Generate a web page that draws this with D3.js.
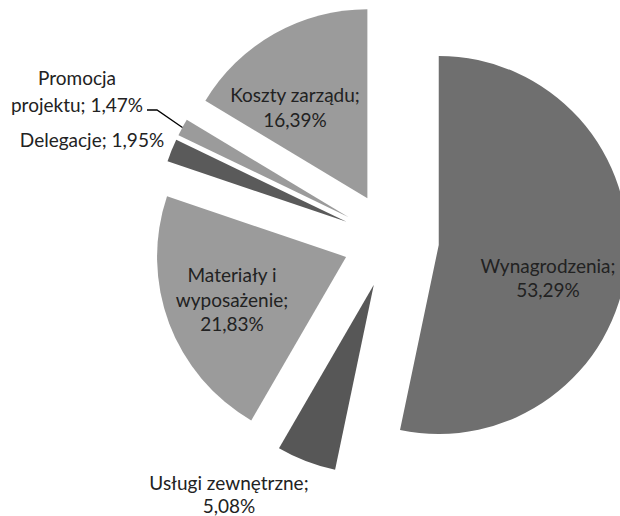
<!DOCTYPE html>
<html>
<head>
<meta charset="utf-8">
<script src="https://cdn.jsdelivr.net/npm/d3@7"></script>
<style>
  body { margin: 0; background: #fff; }
  svg { display: block; }
  text { font-family: Lato, "Open Sans", sans-serif; fill: #222; }
</style>
</head>
<body>
<div id="chart"></div>
<script>
// dane
var categories = ["Wynagrodzenia", "Usługi zewnętrzne", "Materiały i wyposażenie", "Delegacje", "Promocja projektu", "Koszty zarządu"];
var values = [53.29, 5.08, 21.83, 1.95, 1.47, 16.39];
var colors = ["#6f6f6f", "#575757", "#9b9b9b", "#5a5a5a", "#9b9b9b", "#9b9b9b"];

var width = 620, height = 516;
var cx = 391, cy = 240, radius = 189, explode = 48;

// etykiety: ile slow w kazdej linii nazwy, czy wartosc w osobnej linii
var labelWrap = [[1], [2], [2, 1], [1], [1, 1], [2]];
var valueOwnLine = [true, true, true, false, false, true];
var labelPos = [
  {x: 548, y: 273, lh: 24},
  {x: 229, y: 490, lh: 23},
  {x: 232, y: 282, lh: 24.5},
  {x: 92,  y: 147, lh: 24},
  {x: 77,  y: 85,  lh: 27},
  {x: 295, y: 102, lh: 25}
];

var svg = d3.select("#chart").append("svg")
    .attr("width", width)
    .attr("height", height);

var pie = d3.pie().sort(null).value(function(d) { return d; });
var arc = d3.arc().innerRadius(0).outerRadius(radius);
var arcs = pie(values);

function offset(d, r) {
  var a = (d.startAngle + d.endAngle) / 2;
  return [Math.sin(a) * r, -Math.cos(a) * r];
}

var g = svg.append("g").attr("transform", "translate(" + cx + "," + cy + ")");

g.selectAll("path")
  .data(arcs)
  .enter()
  .append("path")
  .attr("d", arc)
  .attr("fill", function(d, i) { return colors[i]; })
  .attr("transform", function(d) {
    var o = offset(d, explode);
    return "translate(" + o[0] + "," + o[1] + ")";
  });

var fmt = function(v) { return d3.format(".2f")(v).replace(".", ",") + "%"; };

arcs.forEach(function(d, i) {
  var words = categories[i].split(" ");
  var lines = [], k = 0;
  labelWrap[i].forEach(function(n) {
    lines.push(words.slice(k, k + n).join(" "));
    k += n;
  });
  lines[lines.length - 1] += ";";
  if (valueOwnLine[i]) lines.push(fmt(values[i]));
  else lines[lines.length - 1] += " " + fmt(values[i]);

  var p = labelPos[i];
  var t = svg.append("text")
    .attr("text-anchor", "middle")
    .style("font-size", "19px");
  lines.forEach(function(l, j) {
    t.append("tspan").attr("x", p.x).attr("y", p.y + j * p.lh).text(l);
  });
});

// linia odniesienia dla promocji
var promo = arcs[4];
var edge = offset(promo, explode + radius);
svg.append("path")
  .attr("d", d3.line()([[147, 110], [157, 110], [cx + edge[0], cy + edge[1]]]))
  .attr("fill", "none")
  .attr("stroke", "#000")
  .attr("stroke-width", 1.3);
</script>
</body>
</html>
